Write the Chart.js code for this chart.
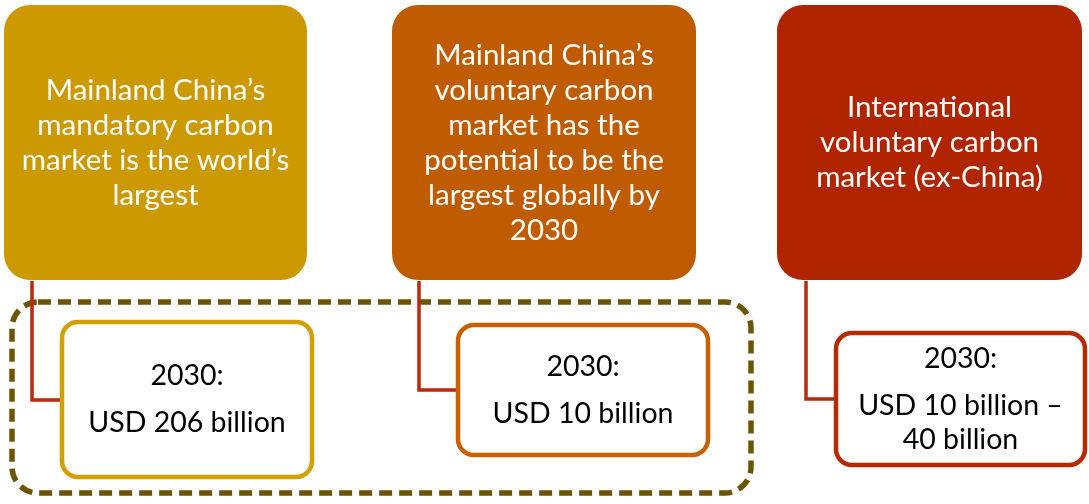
<!DOCTYPE html>
<html>
<head>
<meta charset="utf-8">
<script src="https://cdn.jsdelivr.net/npm/chart.js@4"></script>
<style>
  html, body { margin: 0; padding: 0; background: #fff; }
  #diagram { display: block; }
</style>
</head>
<body>
<canvas id="diagram" width="1089" height="504"></canvas>
<script>
// text content
const headings = [
  ['Mainland China\u2019s', 'mandatory carbon', 'market is the world\u2019s', 'largest'],
  ['Mainland China\u2019s', 'voluntary carbon', 'market has the', 'potential to be the', 'largest globally by', '2030'],
  ['International', 'voluntary carbon', 'market (ex-China)']
];
const years = ['2030:', '2030:', '2030:'];
const values = [
  ['USD 206 billion'],
  ['USD 10 billion'],
  ['USD 10 billion \u2013', '40 billion']
];

// colours
const fillColors = ['#cc9900', '#bf5b00', '#b02500'];
const borderColors = ['#d4a000', '#c96100', '#b72a00'];
const lineColor = '#b82a0a';
const groupColor = '#6b5500';

// layout in scale units (x: 0..1089, y: 0..504 from the top)
const topBoxes = [[4, 5, 307, 280], [392, 5, 696, 280], [777, 5, 1082, 280]];
const valueBoxes = [[62, 322, 312, 477], [458, 325, 708, 455], [836, 333, 1085, 465]];
const connectors = [
  [{x: 32, y: 281}, {x: 32, y: 400}, {x: 62, y: 400}],
  [{x: 419, y: 281}, {x: 419, y: 390}, {x: 458, y: 390}],
  [{x: 806, y: 281}, {x: 806, y: 399}, {x: 836, y: 399}]
];
const groupBox = [12, 302, 751, 493];

const FONT = 'Lato, "Open Sans", sans-serif';

function rr(ctx, xs, ys, b, r) {
  const x0 = xs.getPixelForValue(b[0]), x1 = xs.getPixelForValue(b[2]);
  const y0 = ys.getPixelForValue(b[1]), y1 = ys.getPixelForValue(b[3]);
  ctx.beginPath();
  ctx.roundRect(x0, y0, x1 - x0, y1 - y0, r);
  return {cx: (x0 + x1) / 2, cy: (y0 + y1) / 2};
}

const boxesPlugin = {
  id: 'boxes',
  beforeDatasetsDraw(chart) {
    const ctx = chart.ctx, xs = chart.scales.x, ys = chart.scales.y;
    ctx.save();
    // dashed group outline
    rr(ctx, xs, ys, groupBox, 26);
    ctx.setLineDash([13, 7]);
    ctx.lineWidth = 5.5;
    ctx.strokeStyle = groupColor;
    ctx.stroke();
    ctx.setLineDash([]);

    ctx.textAlign = 'center';
    ctx.textBaseline = 'middle';
    topBoxes.forEach((b, i) => {
      const c = rr(ctx, xs, ys, b, 26);
      ctx.fillStyle = fillColors[i];
      ctx.fill();
      ctx.fillStyle = '#fff';
      ctx.font = '29.5px ' + FONT;
      const lines = headings[i];
      const lh = 35;
      const start = c.cy - (lines.length - 1) * lh / 2;
      lines.forEach((t, j) => ctx.fillText(t, c.cx, start + j * lh));
    });
    ctx.restore();
  },
  afterDatasetsDraw(chart) {
    const ctx = chart.ctx, xs = chart.scales.x, ys = chart.scales.y;
    ctx.save();
    ctx.textAlign = 'center';
    ctx.textBaseline = 'middle';
    valueBoxes.forEach((b, i) => {
      const c = rr(ctx, xs, ys, b, 16);
      ctx.fillStyle = '#fff';
      ctx.fill();
      ctx.lineWidth = 4.5;
      ctx.strokeStyle = borderColors[i];
      ctx.stroke();
      ctx.fillStyle = '#000';
      ctx.font = '28.5px ' + FONT;
      const v = values[i];
      const gap = 47, lh = 34;
      const total = gap + (v.length - 1) * lh;
      const top = c.cy - total / 2;
      ctx.fillText(years[i], c.cx, top);
      v.forEach((t, j) => ctx.fillText(t, c.cx, top + gap + j * lh));
    });
    ctx.restore();
  }
};

new Chart(document.getElementById('diagram'), {
  type: 'scatter',
  data: {
    datasets: connectors.map(pts => ({
      data: pts,
      showLine: true,
      borderColor: lineColor,
      borderWidth: 3.5,
      pointRadius: 0,
      borderJoinStyle: 'miter',
      fill: false
    }))
  },
  options: {
    responsive: false,
    animation: false,
    layout: { padding: 0 },
    plugins: { legend: { display: false }, tooltip: { enabled: false } },
    scales: {
      x: { type: 'linear', min: 0, max: 1089, display: false },
      y: { type: 'linear', min: 0, max: 504, reverse: true, display: false }
    }
  },
  plugins: [boxesPlugin]
});
</script>
</body>
</html>
